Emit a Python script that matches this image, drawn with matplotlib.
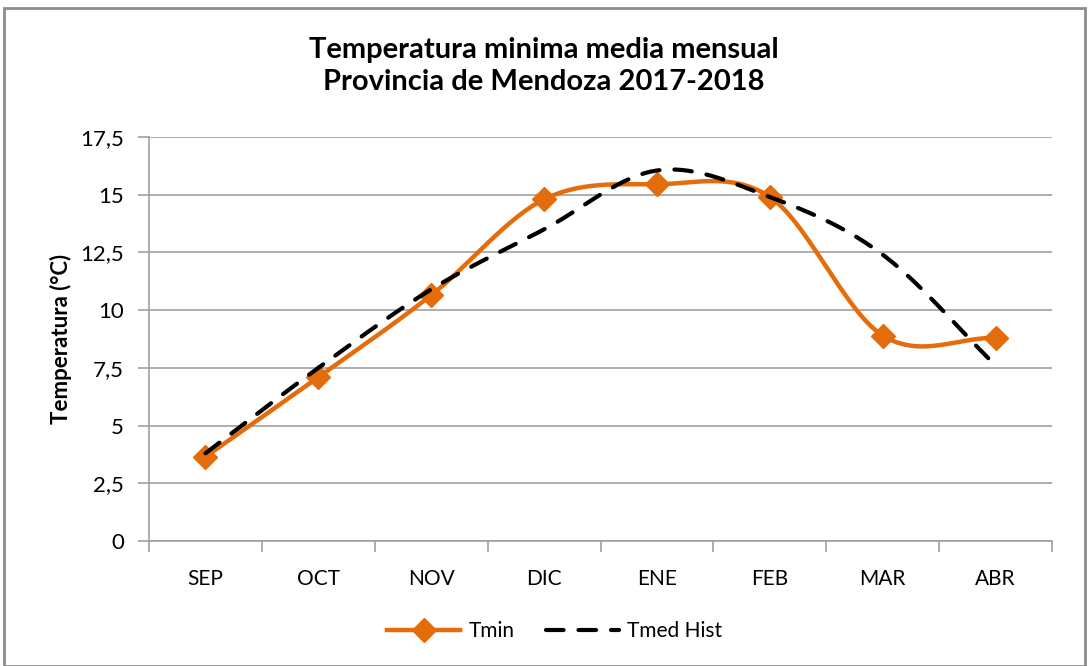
import numpy as np
import matplotlib.pyplot as plt
from matplotlib.patches import Rectangle

months = ['SEP', 'OCT', 'NOV', 'DIC', 'ENE', 'FEB', 'MAR', 'ABR']
tmin = [3.65, 7.1, 10.65, 14.8, 15.45, 14.9, 8.9, 8.8]
tmed_hist = [3.8, 7.5, 10.9, 13.5, 16.05, 14.9, 12.4, 7.6]
yticks = [0, 2.5, 5, 7.5, 10, 12.5, 15, 17.5]

plt.rcParams['font.family'] = ['Lato', 'DejaVu Sans']


def smooth(x, y, n=30):
    # Catmull-Rom spline through the points, similar to Excel's smoothed line
    px = np.concatenate([[2 * x[0] - x[1]], x, [2 * x[-1] - x[-2]]])
    py = np.concatenate([[2 * y[0] - y[1]], y, [2 * y[-1] - y[-2]]])
    xs, ys = [], []
    t = np.linspace(0, 1, n)
    for i in range(1, len(px) - 2):
        for p, out in ((px, xs), (py, ys)):
            p0, p1, p2, p3 = p[i - 1], p[i], p[i + 1], p[i + 2]
            out.extend(0.5 * (2 * p1 + (-p0 + p2) * t
                              + (2 * p0 - 5 * p1 + 4 * p2 - p3) * t ** 2
                              + (-p0 + 3 * p1 - 3 * p2 + p3) * t ** 3))
    return np.array(xs), np.array(ys)


x = np.arange(len(months), dtype=float) + 0.5
tmin = np.array(tmin)
tmed_hist = np.array(tmed_hist)

fig = plt.figure(figsize=(10.88, 6.66), dpi=100)
ax = fig.add_axes([0.137, 0.1877, 0.830, 0.6066])

orange = '#E46C0A'
sx, sy = smooth(x, tmin)
ax.plot(sx, sy, color=orange, lw=3.2, solid_capstyle='round', zorder=3)
ax.plot(x, tmin, ls='none', marker='D', ms=12, color=orange, zorder=4)
ax.plot([], [], color=orange, lw=3.2, marker='D', ms=12, label='Tmin')

hx, hy = smooth(x, tmed_hist)
ax.plot(hx, hy, color='black', lw=3.0, ls=(0, (4.2, 3.6)), dash_capstyle='round',
        zorder=5, label='Tmed Hist')

ax.set_xlim(0, len(months))
ax.set_ylim(0, 17.5)
ax.set_yticks(yticks)
ax.set_yticklabels([f'{v:g}'.replace('.', ',') for v in yticks])
ax.set_xticks(np.arange(len(months) + 1))
ax.set_xticklabels([])
ax.set_xticks(x, minor=True)
ax.set_xticklabels(months, minor=True)
ax.tick_params(axis='x', which='minor', length=0, pad=20, labelsize=15)
ax.tick_params(axis='x', which='major', length=8, color='#A0A0A0', width=1.2)
ax.tick_params(axis='y', length=8, color='#A0A0A0', width=1.2, labelsize=16, pad=10)
ax.grid(axis='y', color='#A0A0A0', lw=1.2)
ax.set_axisbelow(True)
for side in ['top', 'right']:
    ax.spines[side].set_visible(False)
for side in ['left', 'bottom']:
    ax.spines[side].set_color('#A0A0A0')
    ax.spines[side].set_linewidth(1.2)

ax.set_ylabel('Temperatura (°C)', fontsize=16, fontweight='bold', labelpad=6)
fig.text(0.5, 0.901, 'Temperatura minima media mensual\nProvincia de Mendoza 2017-2018',
         ha='center', va='center', fontsize=21, fontweight='bold', linespacing=1.3)

handles, labels = ax.get_legend_handles_labels()
fig.legend(handles[-2:], labels[-2:], loc='center', bbox_to_anchor=(0.51, 0.052), ncol=2,
           frameon=False, fontsize=15, handlelength=3.5, handletextpad=0.4,
           columnspacing=1.5)

fig.patches.append(Rectangle((0.004, 0.0), 0.993, 0.988, transform=fig.transFigure,
                             fill=False, edgecolor='#8C8C8C', lw=2))

fig.savefig('out.png', dpi=100)
